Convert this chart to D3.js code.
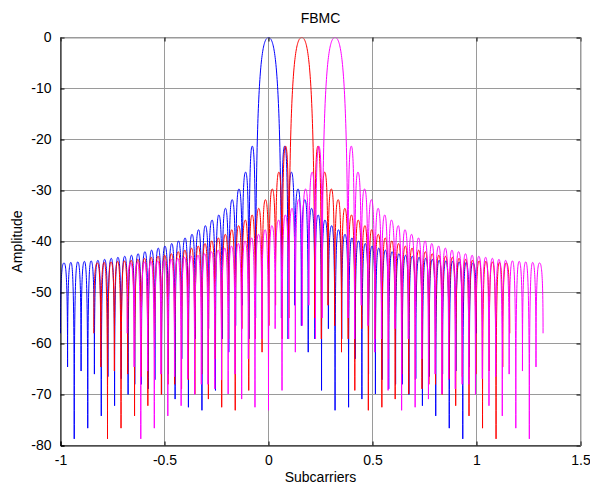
<!DOCTYPE html>
<meta charset="utf-8">
<svg width="590" height="486"></svg>
<script src="https://d3js.org/d3.v7.min.js"></script>
<style>
  body { margin: 0; background: #fff; }
  svg { display: block; }
  text { font-family: 'Liberation Sans', Arial, sans-serif; }
</style>
<script>
// three subcarriers, same prototype spectrum shifted along x
var seriesColor = ["#0000ff", "#ff0000", "#ff00ff"];
var seriesOffset = [0, 0.16, 0.32];

// one side of the spectrum, relative to the subcarrier centre (dB)
var mainPeakDb = 0;
var nullX = [0.062, 0.094, 0.126, 0.158, 0.191, 0.223, 0.255, 0.288, 0.320, 0.352,
             0.385, 0.417, 0.449, 0.481, 0.514, 0.546, 0.578, 0.611, 0.643, 0.675,
             0.708, 0.740, 0.772, 0.804, 0.837, 0.869, 0.901, 0.934, 0.966, 1.000];
var nullDb = [-55, -59.1, -52.5, -56.5, -61.7, -59.1, -69.2, -57.1, -73.1, -59.1,
              -72.5, -63, -70.9, -66, -69.9, -67.1, -68.9, -68, -68, -70,
              -66.9, -72.2, -66.5, -74.2, -66, -76.6, -65.4, -78.7, -64.6, -58];
var peakX = [0.078, 0.110, 0.142, 0.175, 0.207, 0.239, 0.271, 0.304, 0.336, 0.368,
             0.401, 0.433, 0.465, 0.498, 0.530, 0.562, 0.594, 0.627, 0.659, 0.691,
             0.724, 0.756, 0.788, 0.820, 0.853, 0.885, 0.917, 0.950, 0.983];
var peakDb = [-21.3, -26.4, -29.7, -31.8, -33.5, -34.8, -35.8, -36.9, -37.7, -38.6,
              -39.3, -39.9, -40.4, -40.9, -41.3, -41.7, -42.0, -42.4, -42.7, -42.9,
              -43.1, -43.3, -43.5, -43.7, -43.8, -43.9, -44.0, -44.1, -44.2];

var xTicks = [-1, -0.5, 0, 0.5, 1, 1.5];
var yTicks = [0, -10, -20, -30, -40, -50, -60, -70, -80];

var svg = d3.select("svg"),
    pl = 60.5, pr = 580.5, pt = 37.5, pb = 445.5;

var x = d3.scaleLinear().domain([-1, 1.5]).range([pl, pr]);
var y = d3.scaleLinear().domain([-80, 0]).range([pb, pt]);

// right half of the profile: null, peak, null, ... , edge
var half = [];
for (var i = 0; i < nullX.length; i++) {
  half.push([nullX[i], nullDb[i]]);
  if (i < peakX.length) half.push([peakX[i], peakDb[i]]);
}
var profile = half.slice().reverse().map(function(p) { return [-p[0], p[1]]; })
  .concat([[0, mainPeakDb]], half);

// lobe curve: flat tangent at the tops, vertical at the nulls
function LobeCurve(context) { this._context = context; }
LobeCurve.prototype = {
  areaStart: function() {}, areaEnd: function() {},
  lineStart: function() { this._pts = []; },
  point: function(px, py) { this._pts.push([+px, +py]); },
  lineEnd: function() {
    var p = this._pts, c = this._context;
    if (!p.length) return;
    c.moveTo(p[0][0], p[0][1]);
    for (var i = 0; i < p.length - 1; i++) {
      var a = p[i], b = p[i + 1];
      if (a[1] > b[1]) {
        c.bezierCurveTo(a[0], a[1] + (b[1] - a[1]) * 0.9,
                        b[0] - (b[0] - a[0]) * 0.5, b[1], b[0], b[1]);
      } else {
        c.bezierCurveTo(a[0] + (b[0] - a[0]) * 0.5, a[1],
                        b[0], b[1] + (a[1] - b[1]) * 0.9, b[0], b[1]);
      }
    }
  }
};
function lobeCurve(context) { return new LobeCurve(context); }

// grid
svg.append("g").selectAll("line").data(xTicks).join("line")
    .attr("x1", function(d) { return x(d); }).attr("x2", function(d) { return x(d); })
    .attr("y1", pt).attr("y2", pb)
    .attr("stroke", "#9a9a9a").attr("stroke-width", 1);
svg.append("g").selectAll("line").data(yTicks).join("line")
    .attr("y1", function(d) { return y(d); }).attr("y2", function(d) { return y(d); })
    .attr("x1", pl).attr("x2", pr)
    .attr("stroke", "#9a9a9a").attr("stroke-width", 1);

// curves
var line = d3.line()
    .x(function(d) { return x(d[0]); })
    .y(function(d) { return y(d[1]); })
    .curve(lobeCurve);

seriesOffset.forEach(function(off, k) {
  svg.append("path")
      .datum(profile.map(function(p) { return [p[0] + off, p[1]]; }))
      .attr("fill", "none")
      .attr("stroke", seriesColor[k])
      .attr("stroke-width", 1)
      .attr("d", line);
});

// axes, ticks inward
var fmt = function(d) { return String(d); };
svg.append("g").attr("transform", "translate(0," + pb + ")")
    .call(d3.axisBottom(x).tickValues(xTicks).tickSize(-4).tickPadding(10).tickFormat(fmt));
svg.append("g").attr("transform", "translate(" + pl + ",0)")
    .call(d3.axisLeft(y).tickValues(yTicks).tickSize(-4).tickPadding(9).tickFormat(fmt));
svg.append("g").attr("transform", "translate(0," + pt + ")")
    .call(d3.axisTop(x).tickValues(xTicks).tickSize(-4).tickFormat(""))
    .select(".domain").attr("stroke", "#9a9a9a");
svg.append("g").attr("transform", "translate(" + pr + ",0)")
    .call(d3.axisRight(y).tickValues(yTicks).tickSize(-4).tickFormat(""))
    .select(".domain").attr("stroke", "#9a9a9a");

svg.selectAll(".tick text").attr("font-size", 14).attr("fill", "#000")
    .style("font-family", "'Liberation Sans', Arial, sans-serif");

svg.append("text")
    .attr("x", (pl + pr) / 2).attr("y", 23)
    .attr("text-anchor", "middle").attr("font-size", 14)
    .text("FBMC");

svg.append("text")
    .attr("x", (pl + pr) / 2).attr("y", 482)
    .attr("text-anchor", "middle").attr("font-size", 14)
    .text("Subcarriers");

svg.append("text")
    .attr("transform", "translate(22," + ((pt + pb) / 2) + ") rotate(-90)")
    .attr("text-anchor", "middle").attr("font-size", 14)
    .text("Amplitude");
</script>
